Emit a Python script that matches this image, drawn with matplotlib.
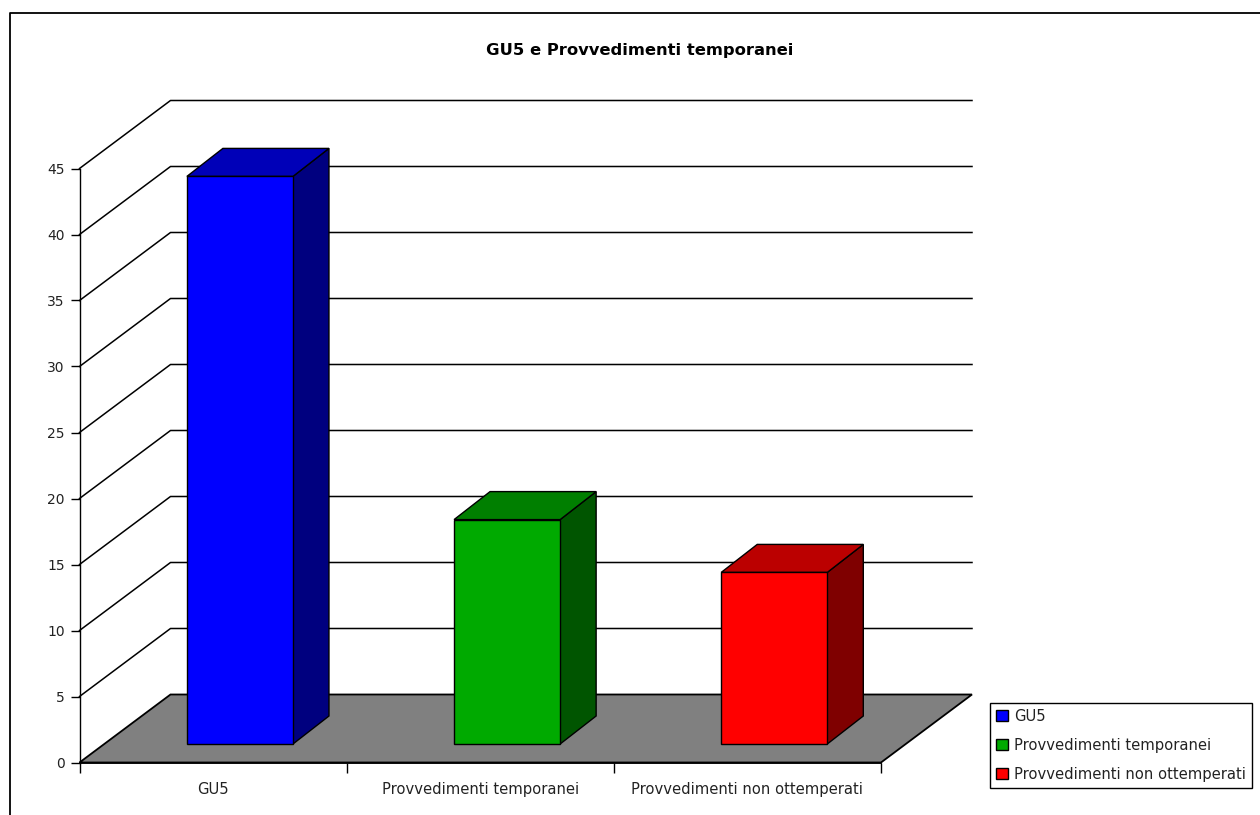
import matplotlib
matplotlib.use('Agg')
import matplotlib.pyplot as plt
from matplotlib.lines import Line2D
from matplotlib.patches import Patch, Polygon

categories = ['GU5', 'Provvedimenti temporanei', 'Provvedimenti non ottemperati']
values = [43, 17, 13]
y_ticks = [0, 5, 10, 15, 20, 25, 30, 35, 40, 45]
title = 'GU5 e Provvedimenti temporanei'

front_colors = ['#0000ff', '#00aa00', '#ff0000']
top_colors = ['#0000b8', '#007f00', '#bb0000']
side_colors = ['#00007f', '#005500', '#7f0000']

W, H = 1260, 815
# plot box in pixels (front plane)
left, right, bottom, top = 79.5, 881, 762.5, 168.5

fig = plt.figure(figsize=(W / 100, H / 100), dpi=100)
plt.rcParams['font.family'] = ['DejaVu Sans']
ax = fig.add_axes([left / W, 1 - bottom / H, (right - left) / W, (bottom - top) / H])
ax.set_xlim(0, 3)
ax.set_ylim(0, 45)

# wall depth and bar depth in data units
wall_dx = 91 / ((right - left) / 3)
wall_dy = 68 / ((bottom - top) / 45)
bar_dx = 36 / ((right - left) / 3)
bar_dy = 28 / ((bottom - top) / 45)
bar_x = 0.402
bar_w = 0.397
bar_base = 18.5 / ((bottom - top) / 45)

ax.add_patch(Polygon([(0, 0), (3, 0), (3 + wall_dx, wall_dy), (wall_dx, wall_dy)],
                     facecolor='#808080', edgecolor='black', lw=1.3, clip_on=False, zorder=1))

for v in y_ticks[1:]:
    ax.plot([0, wall_dx, 3 + wall_dx], [v, v + wall_dy, v + wall_dy],
            color='black', lw=1.1, clip_on=False, zorder=1)

for i, v in enumerate(values):
    x0 = i + bar_x
    x1 = x0 + bar_w
    y0 = bar_base
    y1 = bar_base + v
    ax.add_patch(Polygon([(x1, y0), (x1 + bar_dx, y0 + bar_dy), (x1 + bar_dx, y1 + bar_dy), (x1, y1)],
                         facecolor=side_colors[i], edgecolor='black', lw=1, clip_on=False, zorder=3))
    ax.add_patch(Polygon([(x0, y1), (x1, y1), (x1 + bar_dx, y1 + bar_dy), (x0 + bar_dx, y1 + bar_dy)],
                         facecolor=top_colors[i], edgecolor='black', lw=1, clip_on=False, zorder=3))
    ax.add_patch(Polygon([(x0, y0), (x1, y0), (x1, y1), (x0, y1)],
                         facecolor=front_colors[i], edgecolor='black', lw=1, clip_on=False, zorder=4))

ax.spines['top'].set_visible(False)
ax.spines['right'].set_visible(False)
ax.spines['left'].set_linewidth(1)
ax.spines['bottom'].set_linewidth(1.3)
ax.set_yticks(y_ticks)
ax.set_xticks([0, 1, 2, 3])
ax.set_xticklabels([])
ax.set_xticks([0.5, 1.5, 2.5], minor=True)
ax.set_xticklabels(categories, minor=True, fontsize=10.6, color='#222222')
ax.tick_params(axis='x', which='major', length=7, width=1)
ax.tick_params(axis='x', which='minor', length=0, pad=14)
ax.tick_params(axis='y', length=6.5, width=1, pad=4, labelsize=10, labelcolor='#222222')

fig.text(640 / W, 1 - 50 / H, title, ha='center', va='center', fontsize=11.8, fontweight='bold')

# outer frame, only left and top are in the picture
fig.add_artist(Line2D([10 / W, 10 / W, 1], [0, 1 - 13 / H, 1 - 13 / H], color='black', lw=1.3))

handles = [Patch(facecolor=c, edgecolor='black', lw=1, label=n) for c, n in zip(front_colors, categories)]
leg = fig.legend(handles=handles, loc='lower left', bbox_to_anchor=(990 / W, 1 - 788 / H),
                 bbox_transform=fig.transFigure, fancybox=False, framealpha=1, edgecolor='black',
                 fontsize=10.6, handlelength=0.77, handleheight=0.77, handletextpad=0.42,
                 labelspacing=0.95, borderpad=0.42, borderaxespad=0, labelcolor='#222222')
leg.get_frame().set_linewidth(1)

fig.savefig('out.png', dpi=100)
